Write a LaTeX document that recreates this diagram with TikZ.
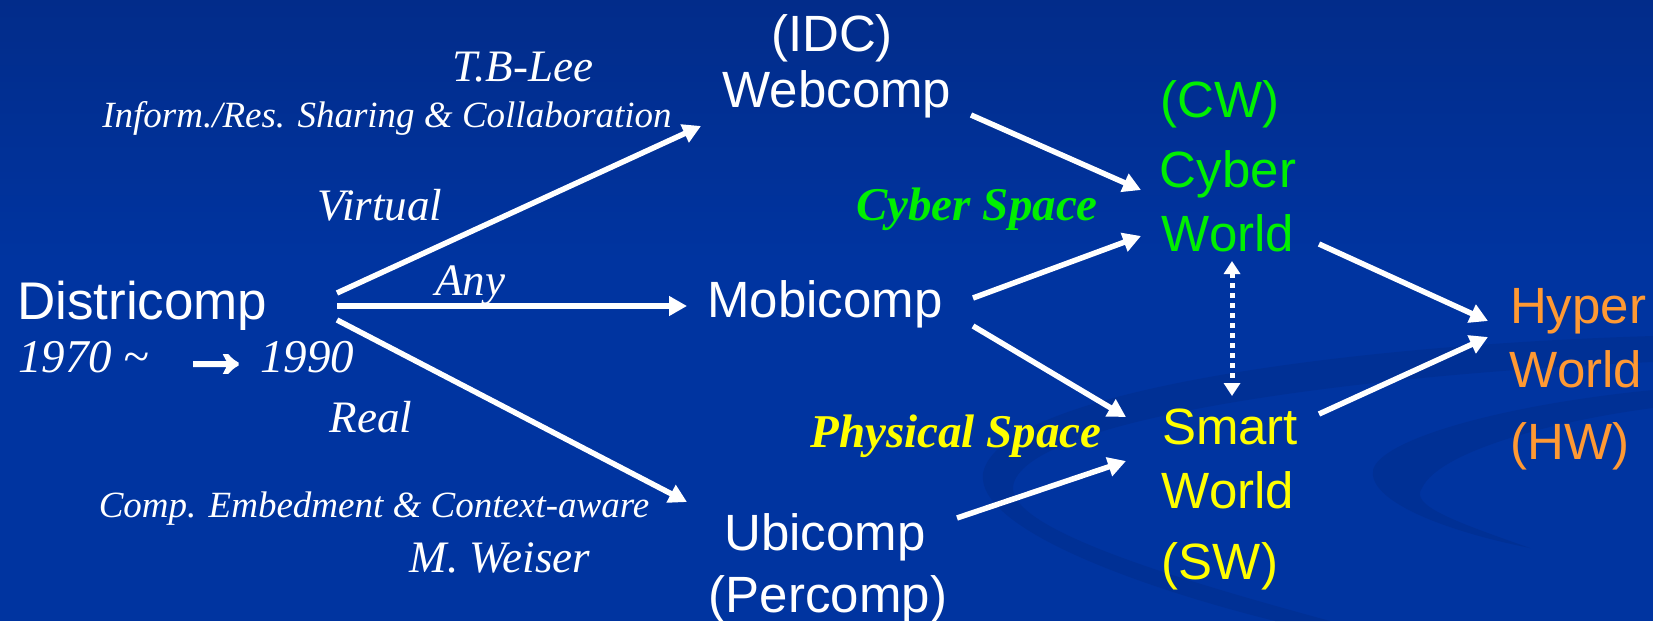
\documentclass[tikz,border=0pt]{standalone}
\usepackage{fontspec}
\setmainfont{Liberation Serif}
\setsansfont{Liberation Sans}
\newfontfamily\arrowglyph[FakeBold=4]{Liberation Sans Bold}
\usetikzlibrary{arrows.meta}

\definecolor{bgtop}{HTML}{022C8A}
\definecolor{bgmid}{HTML}{0034A0}
\definecolor{swirlc}{HTML}{00277E}
\definecolor{cybergreen}{HTML}{00F000}
\definecolor{smartyellow}{HTML}{FFFF00}
\definecolor{hyperorange}{HTML}{FF9933}

\tikzset{
  paradigm/.style={inner sep=0pt, anchor=base, text=white,
    font=\sffamily\fontsize{51}{61}\selectfont},
  cyberlbl/.style={paradigm, text=cybergreen},
  smartlbl/.style={paradigm, text=smartyellow},
  hyperlbl/.style={paradigm, text=hyperorange},
  note/.style={inner sep=0pt, anchor=base, text=white,
    font=\rmfamily\itshape\fontsize{45}{54}\selectfont},
  smallnote/.style={note, font=\rmfamily\itshape\fontsize{37}{44}\selectfont},
  space/.style={inner sep=0pt, anchor=base,
    font=\rmfamily\bfseries\itshape\fontsize{47}{56}\selectfont},
  flow/.style={draw=white, line width=5.5pt,
    -{Triangle[length=18pt,width=19pt]}},
  link/.style={draw=white, line width=5pt, dash pattern=on 5pt off 5pt,
    {Triangle[length=13pt,width=16pt]}-{Triangle[length=13pt,width=16pt]}},
  swirl/.style={fill=swirlc, fill opacity=0.3, draw=none}
}

\begin{document}
\begin{tikzpicture}[x=1pt, y=-1pt]
  % backdrop
  \useasboundingbox (0,0) rectangle (1653,621);
  \fill[bgmid] (0,0) rectangle (1653,621);
  \shade[top color=bgtop, bottom color=bgmid] (0,0) rectangle (1653,260);

  % faint swirl in the lower right
  \fill[swirl] (1653,336) .. controls (1350,345) and (1000,390) .. (983,473)
    .. controls (975,530) and (1150,590) .. (1275,621) -- (1330,621)
    .. controls (1180,580) and (1010,530) .. (1013,487)
    .. controls (1020,420) and (1350,375) .. (1653,362) -- cycle;
  \fill[swirl] (1653,390) .. controls (1500,405) and (1380,440) .. (1373,470)
    .. controls (1368,500) and (1440,530) .. (1530,548)
    .. controls (1450,520) and (1410,505) .. (1422,488)
    .. controls (1440,450) and (1560,420) .. (1653,408) -- cycle;

  % computing paradigms
  \node[paradigm, anchor=base west, font=\sffamily\fontsize{53}{63}\selectfont]
    (dist) at (17,319) {Districomp};
  \node[note, anchor=base west, font=\rmfamily\itshape\fontsize{47}{56}\selectfont]
    (years) at (18,372)
    {1970 \char`~\hspace{46pt}\makebox[41pt]{\smash{\raisebox{-4pt}{\upshape\arrowglyph\fontsize{72}{78}\selectfont →}}}\hspace{24pt}1990};
  \node[paradigm] (idc) at (832,51) {(IDC)};
  \node[paradigm] (web) at (837,107) {Webcomp};
  \node[paradigm] (mob) at (825,317) {Mobicomp};
  \node[paradigm] (ubi) at (825,550) {Ubicomp};
  \node[paradigm] (per) at (828,612) {(Percomp)};

  % worlds
  \node[cyberlbl] (cwtag) at (1220,117) {(CW)};
  \node[cyberlbl] (cyb) at (1228,187) {Cyber};
  \node[cyberlbl] (cww) at (1228,251) {World};
  \node[smartlbl] (sma) at (1230,444) {Smart};
  \node[smartlbl] (sww) at (1228,508) {World};
  \node[smartlbl] (swtag) at (1220,579) {(SW)};
  \node[hyperlbl] (hyp) at (1578,323) {Hyper};
  \node[hyperlbl] (hww) at (1576,387) {World};
  \node[hyperlbl] (hwtag) at (1570,459) {(HW)};

  % annotations
  \node[note] (tbl) at (523,81) {T.B-Lee};
  \node[smallnote] (share) at (387,127) {Inform./Res. Sharing \& Collaboration};
  \node[note] (virt) at (380,220) {Virtual};
  \node[note] (any) at (470,295) {Any};
  \node[note] (real) at (371,432) {Real};
  \node[smallnote] (embed) at (374,517) {Comp. Embedment \& Context-aware};
  \node[note] (weis) at (500,572) {M. Weiser};
  \node[space, text=cybergreen] (cspace) at (977,220) {Cyber Space};
  \node[space, text=smartyellow] (pspace) at (956,447) {Physical Space};

  % connectors
  \draw[flow] ([shift={(320,-26)}]dist.base west) -- ([shift={(-136,19)}]web.base);
  \draw[flow] ([shift={(320,-13)}]dist.base west) -- ([shift={(-138,-11)}]mob.base);
  \draw[flow] ([shift={(320,1)}]dist.base west) -- ([shift={(-138,-48)}]ubi.base);
  \draw[flow] ([shift={(134,8)}]web.base) -- ([shift={(-87,3)}]cyb.base);
  \draw[flow] ([shift={(148,-19)}]mob.base) -- ([shift={(-87,-15)}]cww.base);
  \draw[flow] ([shift={(148,9)}]mob.base) -- ([shift={(-104,-27)}]sma.base);
  \draw[flow] ([shift={(132,-32)}]ubi.base) -- ([shift={(-104,17)}]sma.base);
  \draw[flow] ([shift={(91,-7)}]cww.base) -- ([shift={(-90,-2)}]hyp.base);
  \draw[flow] ([shift={(89,-30)}]sma.base) -- ([shift={(-90,14)}]hyp.base);
  \draw[link] ([shift={(4,10)}]cww.base) -- ([shift={(2,-48)}]sma.base);
\end{tikzpicture}
\end{document}
